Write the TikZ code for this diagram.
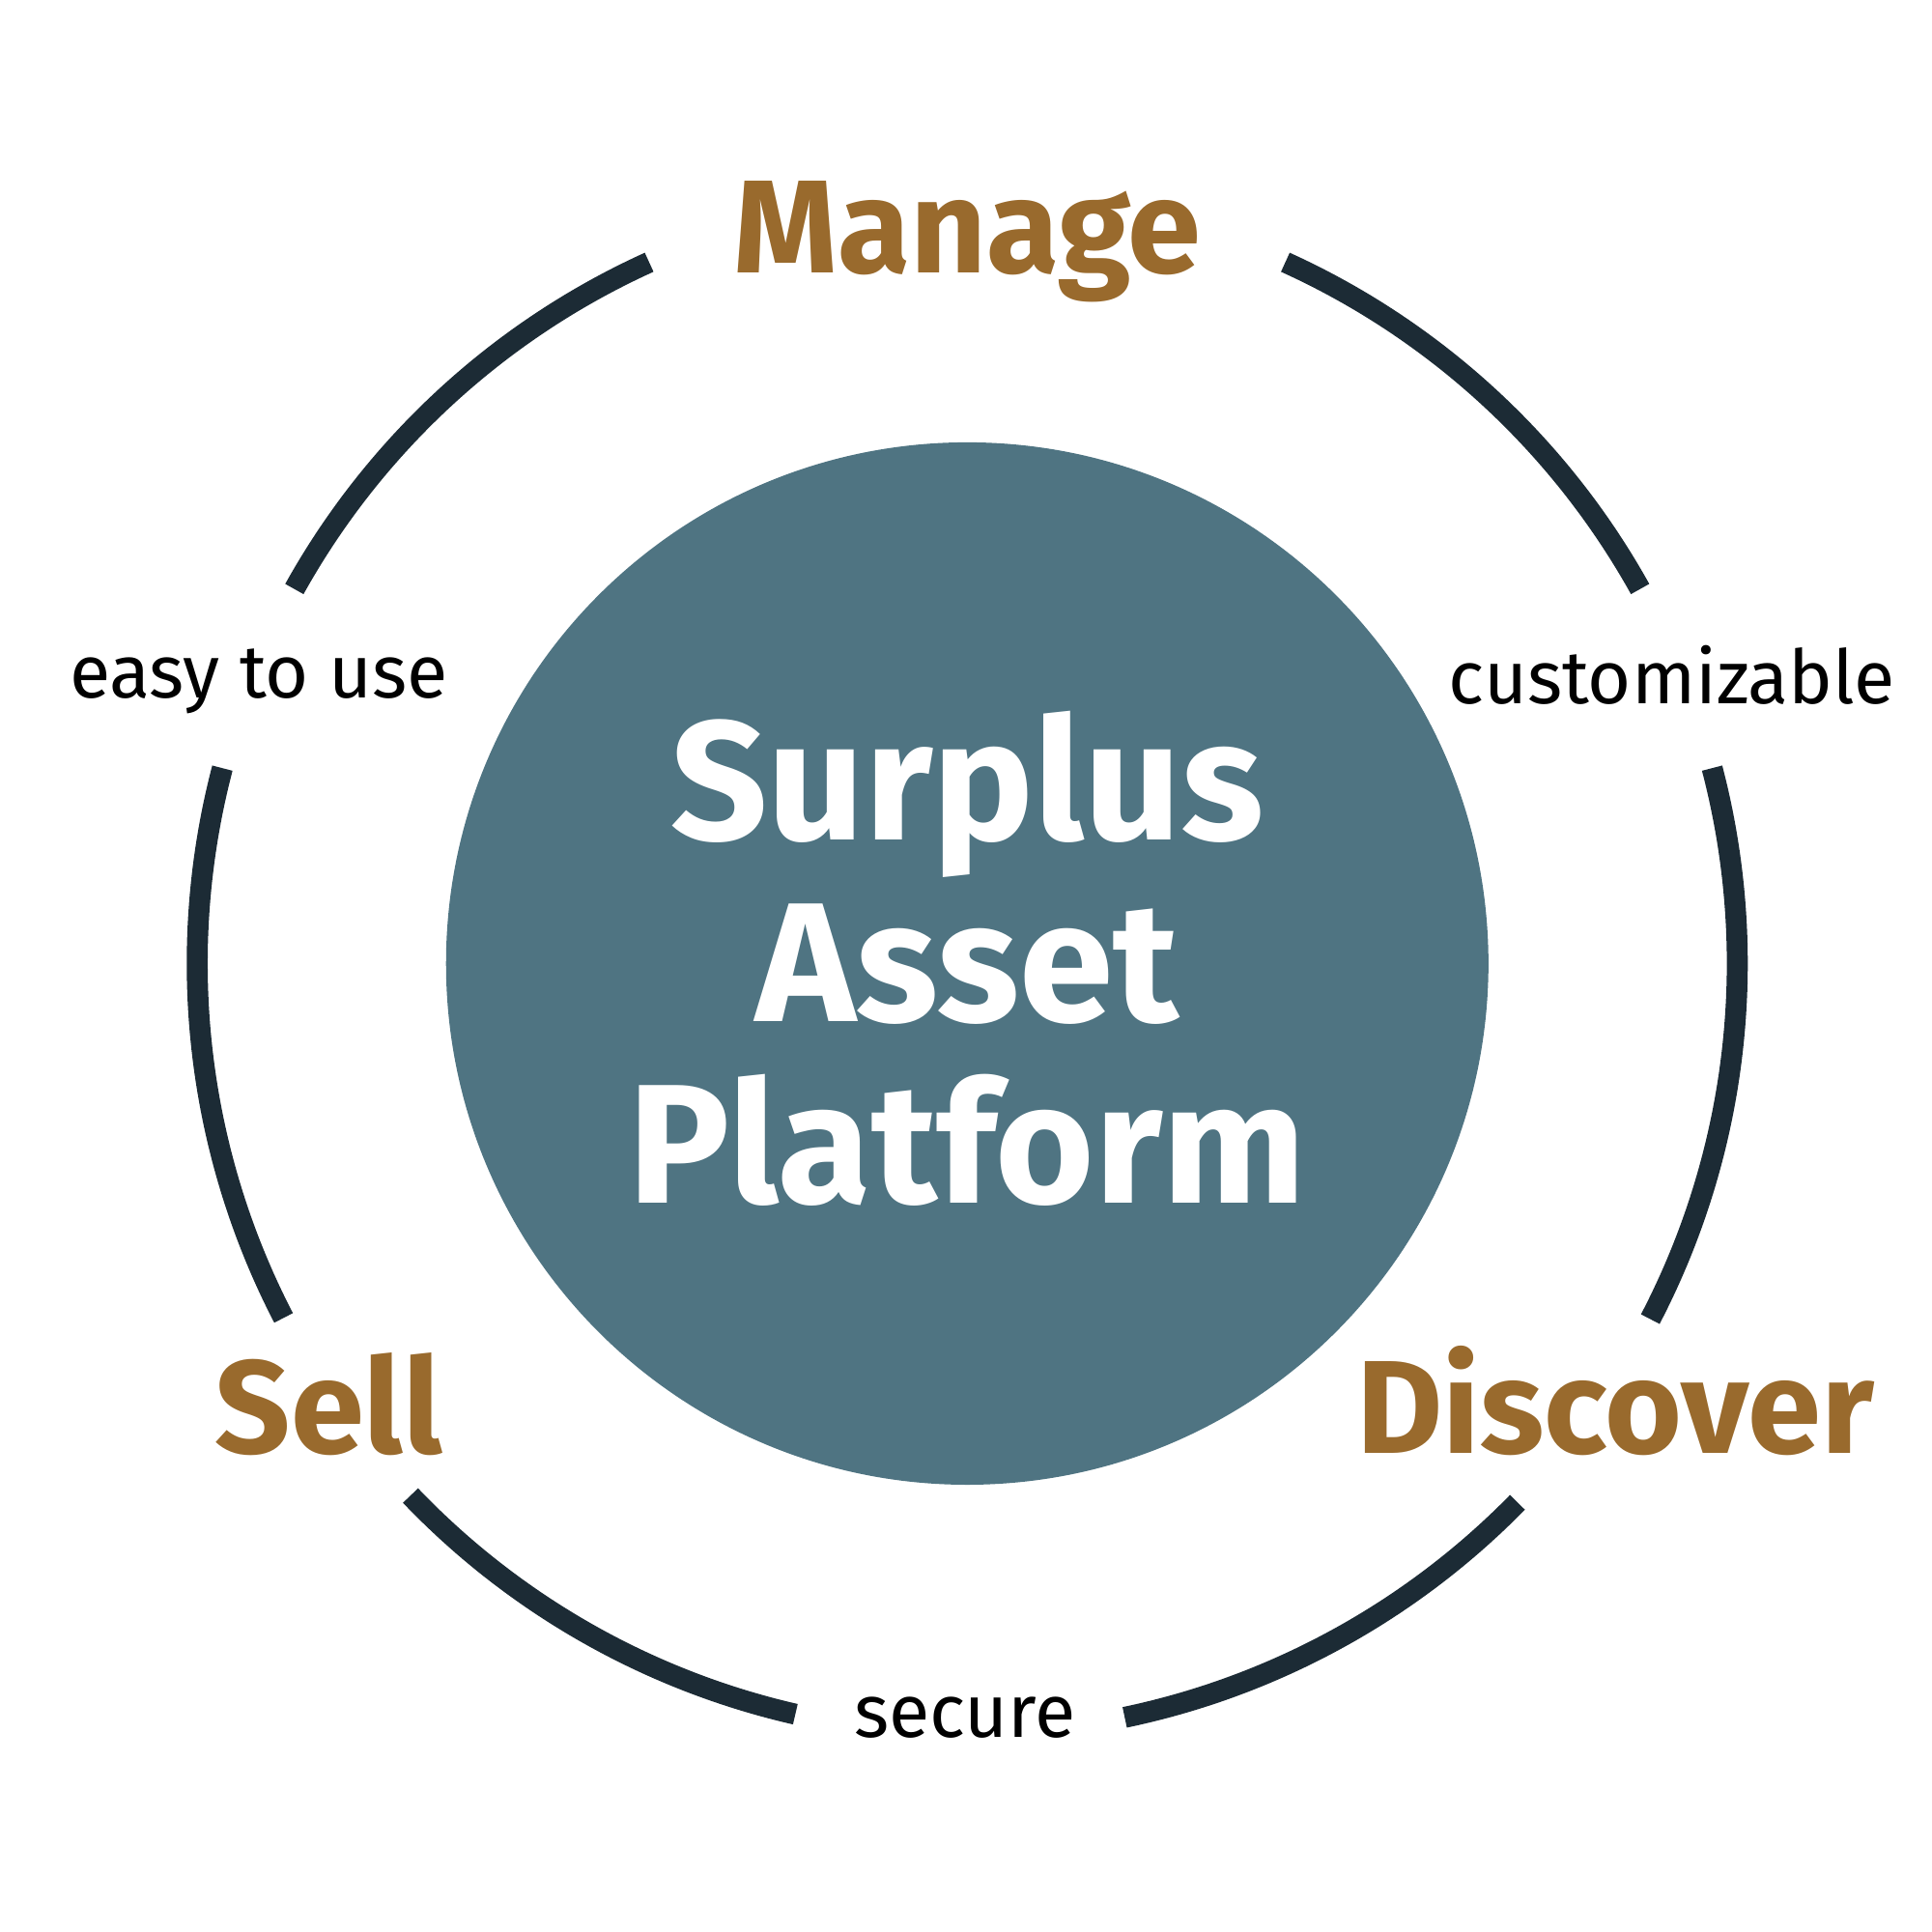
\documentclass[tikz,border=0pt]{standalone}
\usepackage{fontspec}
\usetikzlibrary{calc}
\setmainfont{Fira Sans}
\definecolor{ring}{HTML}{1C2B35}
\definecolor{hub}{HTML}{4F7482}
\definecolor{brown}{HTML}{996A2D}
\begin{document}
\begin{tikzpicture}[x=0.012755cm,y=-0.012755cm,
  arcseg/.style={draw=ring,line width=17*0.012755cm},
  stage/.style={text=brown,font=\bfseries\fontsize{39}{40}\selectfont},
  quality/.style={text=black,font=\fontsize{22}{24}\selectfont}]
\useasboundingbox (0,0) rectangle (1568,1568);
\coordinate (c) at (785,782);
\node[circle,fill=hub,minimum size=846*0.012755cm,inner sep=0] (hubc) at (c) {};
\node[text=white,font=\bfseries\fontsize{50}{53.6}\selectfont,align=center] (title) at (785,778) {Surplus\\Asset\\Platform};
\foreach \a/\b in {114.4/150.9,165.3/207.4,223.7/257.1,281.8/315.6,332.5/374.7,29.1/65.6}{
  \draw[arcseg] ($(c)+(\a:625 and -625)$) arc[start angle=-\a,end angle=-\b,radius=625];
}
\node[stage] (manage) at (785,196) {Manage};
\node[stage] (sell) at (267,1140) {Sell};
\node[stage] (discover) at (1311,1137) {Discover};
\node[quality] (easy) at (210,553) {easy to use};
\node[quality] (cust) at (1357,548) {customizable};
\node[quality] (secure) at (783,1394) {secure};
\end{tikzpicture}
\end{document}
